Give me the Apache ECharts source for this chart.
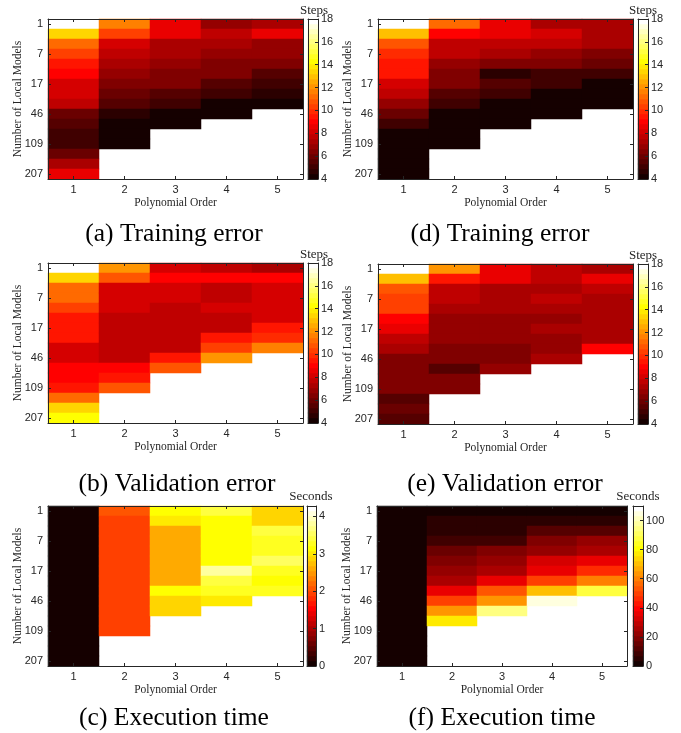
<!DOCTYPE html>
<html>
<head>
<meta charset="utf-8">
<script src="https://cdn.jsdelivr.net/npm/echarts@6/dist/echarts.min.js"></script>
<style>html,body{margin:0;background:#fff}#main{width:681px;height:733px}</style>
</head>
<body>
<div id="main"></div>
<script>
/* heatmaps: error / time vs polynomial order and number of local models */
var orders = ['1', '2', '3', '4', '5'];
var rowIds = [0, 1, 2, 3, 4, 5, 6, 7, 8, 9, 10, 11, 12, 13, 14, 15];
var rowTicks = [0, 3, 6, 9, 12, 15];
var rowTickLabels = ['1', '7', '17', '46', '109', '207'];

// one array per polynomial order, top row first
var trainA = [
    [18, 13.5, 11.1, 10.3, 9.3, 9.2, 8.3, 8.0, 7.5, 6.1, 5.4, 4.9, 4.9, 6.1, 7.4, 8.7],
    [11.8, 10.3, 8.0, 7.5, 7.3, 6.7, 6.4, 6.0, 5.4, 4.8, 4.3, 4.2, 4.2],
    [8.7, 8.5, 7.4, 7.2, 6.7, 6.5, 6.3, 5.4, 5.1, 4.3, 4.2],
    [7.0, 7.9, 7.4, 6.9, 6.6, 6.4, 5.4, 5.1, 4.2, 4.2],
    [7.2, 8.6, 6.9, 6.7, 6.2, 5.7, 5.1, 4.6, 4.2]
];
var trainD = [
    [18, 13.0, 10.6, 10.0, 9.6, 9.3, 8.2, 7.7, 7.0, 6.0, 5.2, 4.2, 4.2, 4.2, 4.2, 4.2],
    [11.2, 9.0, 7.9, 7.5, 6.8, 6.3, 6.3, 5.6, 5.1, 4.3, 4.2, 4.2, 4.2],
    [8.6, 8.5, 7.5, 7.1, 6.5, 4.7, 5.6, 5.0, 4.3, 4.2, 4.2],
    [7.2, 8.0, 7.5, 6.8, 6.4, 5.1, 5.3, 4.3, 4.2, 4.2],
    [7.3, 7.3, 7.3, 6.3, 5.8, 5.1, 4.3, 4.2, 4.2]
];
var validB = [
    [18, 13.4, 11.2, 11.1, 10.5, 9.5, 9.3, 9.5, 8.2, 8.2, 9.0, 9.0, 9.5, 11.2, 13.4, 14.1],
    [11.9, 10.8, 8.2, 8.2, 8.2, 7.8, 7.8, 7.9, 7.6, 7.6, 9.0, 9.5, 10.8],
    [8.2, 9.0, 8.2, 8.2, 7.9, 7.8, 7.8, 7.9, 7.7, 9.3, 10.8],
    [7.9, 9.0, 7.7, 7.7, 8.2, 7.7, 7.8, 9.3, 10.3, 11.9],
    [7.4, 9.0, 8.2, 8.2, 8.2, 8.2, 9.3, 10.0, 11.6]
];
var validE = [
    [18, 13.0, 10.8, 10.3, 10.3, 9.2, 8.4, 7.9, 7.3, 6.6, 6.6, 6.3, 6.3, 5.5, 6.1, 5.5],
    [12.0, 9.5, 7.9, 7.9, 7.3, 6.9, 6.9, 6.9, 6.3, 6.3, 5.5, 6.3, 6.3],
    [8.6, 8.6, 7.3, 7.3, 7.3, 6.9, 6.9, 6.9, 6.3, 6.3, 6.9],
    [7.9, 7.9, 7.3, 7.9, 7.3, 6.8, 7.3, 6.9, 6.9, 7.3],
    [7.3, 8.6, 7.9, 7.3, 7.3, 7.3, 7.3, 7.3, 9.2]
];
var timeC = [
    [0.06, 0.06, 0.06, 0.06, 0.06, 0.06, 0.06, 0.06, 0.06, 0.06, 0.06, 0.06, 0.06, 0.06, 0.06, 0.06],
    [2.05, 1.93, 1.93, 1.93, 1.93, 1.93, 1.93, 1.93, 1.93, 1.93, 1.93, 1.93, 1.93],
    [3.15, 2.95, 2.6, 2.6, 2.6, 2.6, 2.6, 2.6, 3.15, 2.85, 2.85],
    [3.35, 3.15, 3.15, 3.15, 3.15, 3.15, 3.8, 3.4, 3.3, 2.95],
    [2.9, 2.9, 3.45, 3.3, 3.3, 3.6, 3.3, 3.2, 3.3]
];
var timeF = [
    [1.5, 1.5, 1.5, 1.5, 1.5, 1.5, 1.5, 1.5, 1.5, 1.5, 1.5, 1.5, 1.5, 1.5, 1.5, 1.5],
    [1.5, 5, 5, 8.5, 15, 20, 22, 26, 36, 50, 65, 77],
    [1.5, 5, 5, 8.5, 19, 22, 26, 36, 52, 65, 96],
    [1.5, 5, 12, 19, 22, 33, 36, 50, 71, 104],
    [1.5, 5, 12, 22, 26, 36, 45, 60, 88]
];

var panels = [
    {data: trainA, min: 4, max: 18, interval: 2, unit: 'Steps', caption: '(a) Training error'},
    {data: trainD, min: 4, max: 18, interval: 2, unit: 'Steps', caption: '(d) Training error'},
    {data: validB, min: 4, max: 18, interval: 2, unit: 'Steps', caption: '(b) Validation error'},
    {data: validE, min: 4, max: 18, interval: 2, unit: 'Steps', caption: '(e) Validation error'},
    {data: timeC, min: 0, max: 4.28, interval: 1, unit: 'Seconds', caption: '(c) Execution time'},
    {data: timeF, min: 0, max: 110, interval: 20, unit: 'Seconds', caption: '(f) Execution time'}
];

// whole-pixel cells (16 rows x 10px, 5 cols x 51px) so no seams show between cells
var layout = [
    {x: 48, y: 19, w: 255, h: 160, cx: 308, cw: 10, ux: 314, uy: 11, tx: 174, ty: 234},
    {x: 378, y: 19, w: 255, h: 160, cx: 638, cw: 10, ux: 643, uy: 11, tx: 500, ty: 234},
    {x: 48, y: 263, w: 255, h: 160, cx: 308, cw: 10, ux: 314, uy: 255, tx: 177, ty: 484},
    {x: 378, y: 264, w: 255, h: 160, cx: 638, cw: 10, ux: 643, uy: 256, tx: 505, ty: 484},
    {x: 48, y: 506, w: 255, h: 160, cx: 307, cw: 9, ux: 311, uy: 497, tx: 174, ty: 718},
    {x: 377, y: 506, w: 250, h: 160, cx: 633, cw: 10, ux: 638, uy: 497, tx: 502, ty: 718}
];

var ink = '#262626';
var sans = '"Liberation Sans", Arial, sans-serif';
var serif = '"Liberation Serif", "Times New Roman", serif';
var NLEV = 32;

// MATLAB-like hot(m)
function hot(m) {
    var n = Math.floor(3 / 8 * m), out = [];
    for (var i = 0; i < m; i++) {
        var r = i < n ? (i + 1) / n : 1;
        var g = i < n ? 0 : (i < 2 * n ? (i - n + 1) / n : 1);
        var b = i < 2 * n ? 0 : (i - 2 * n + 1) / (m - 2 * n);
        out.push('rgb(' + Math.round(r * 255) + ',' + Math.round(g * 255) + ',' + Math.round(b * 255) + ')');
    }
    return out;
}
var hotColors = hot(NLEV);
var levels = [];
for (var li = 0; li < NLEV; li++) levels.push(li);

var line = {show: true, lineStyle: {color: ink, width: 1}};
var noSplit = {show: false};
var grids = [], xAxes = [], yAxes = [], series = [], visualMaps = [], graphics = [];

panels.forEach(function (p, k) {
    var L = layout[k];
    var step = (p.max - p.min) / NLEV;

    // main heatmap
    var gi = grids.length;
    grids.push({left: L.x, top: L.y, width: L.w, height: L.h});
    var xi = xAxes.length;
    xAxes.push({
        type: 'category', gridIndex: gi, data: orders, position: 'bottom', z: 5,
        splitLine: noSplit, splitArea: noSplit,
        axisLine: line, axisTick: {show: true, inside: true, length: 3, alignWithLabel: true, lineStyle: {color: ink}},
        axisLabel: {color: ink, fontFamily: sans, fontSize: 11, margin: 5},
        name: 'Polynomial Order', nameLocation: 'middle', nameGap: 18,
        nameTextStyle: {color: ink, fontFamily: serif, fontSize: 11.5}
    });
    xAxes.push({
        type: 'category', gridIndex: gi, data: orders, position: 'top', z: 5,
        splitLine: noSplit, splitArea: noSplit,
        axisLine: line, axisTick: {show: true, inside: true, length: 3, alignWithLabel: true, lineStyle: {color: ink}},
        axisLabel: {show: false}
    });
    var yi = yAxes.length;
    var pick = function (i) { return rowTicks.indexOf(i) >= 0; };
    yAxes.push({
        type: 'category', gridIndex: gi, data: rowIds, inverse: true, position: 'left', z: 5,
        splitLine: noSplit, splitArea: noSplit,
        axisLine: line,
        axisTick: {show: true, inside: true, length: 3, alignWithLabel: true, interval: pick, lineStyle: {color: ink}},
        axisLabel: {
            color: ink, fontFamily: sans, fontSize: 11, margin: 5, interval: pick,
            formatter: function (v) { var t = rowTicks.indexOf(+v); return t >= 0 ? rowTickLabels[t] : ''; }
        },
        name: 'Number of Local Models', nameLocation: 'middle', nameGap: 24, nameMoveOverlap: false,
        nameTextStyle: {color: ink, fontFamily: serif, fontSize: 11.5}
    });
    yAxes.push({
        type: 'category', gridIndex: gi, data: rowIds, inverse: true, position: 'right', z: 5,
        splitLine: noSplit, splitArea: noSplit,
        axisLine: line,
        axisTick: {show: true, inside: true, length: 3, alignWithLabel: true, interval: pick, lineStyle: {color: ink}},
        axisLabel: {show: false}
    });
    var cells = [];
    p.data.forEach(function (col, c) {
        col.forEach(function (v, r) { cells.push([c, r, v]); });
    });
    var si = series.length;
    series.push({type: 'heatmap', xAxisIndex: xi, yAxisIndex: yi, data: cells, emphasis: {disabled: true}});

    // colour bar
    var cg = grids.length;
    grids.push({left: L.cx, top: L.y, width: L.cw, height: L.h});
    var cxi = xAxes.length;
    xAxes.push({type: 'category', gridIndex: cg, data: [''], position: 'bottom', z: 5,
        splitLine: noSplit, splitArea: noSplit,
        axisLine: line, axisTick: {show: false}, axisLabel: {show: false}});
    xAxes.push({type: 'category', gridIndex: cg, data: [''], position: 'top', z: 5,
        splitLine: noSplit, splitArea: noSplit,
        axisLine: line, axisTick: {show: false}, axisLabel: {show: false}});
    var cyi = yAxes.length;
    yAxes.push({type: 'category', gridIndex: cg, data: levels, position: 'left', z: 5,
        splitLine: noSplit, splitArea: noSplit,
        axisLine: line, axisTick: {show: false}, axisLabel: {show: false}});
    yAxes.push({
        type: 'value', gridIndex: cg, min: p.min, max: p.max, interval: p.interval, position: 'right', z: 5,
        axisLine: line, splitLine: noSplit, splitArea: noSplit,
        axisTick: {show: true, inside: true, length: 3, lineStyle: {color: ink}},
        axisLabel: {color: ink, fontFamily: sans, fontSize: 11, margin: 3, showMaxLabel: p.max % p.interval === 0}
    });
    series.push({
        type: 'heatmap', xAxisIndex: cxi, yAxisIndex: cyi, emphasis: {disabled: true},
        data: levels.map(function (i) { return [0, i, p.min + (i + 0.5) * step]; })
    });

    var pieces = hotColors.map(function (c, i) {
        var pc = {color: c};
        if (i > 0) pc.gte = p.min + i * step;
        if (i < NLEV - 1) pc.lt = p.min + (i + 1) * step;
        return pc;
    });
    visualMaps.push({type: 'piecewise', show: false, seriesIndex: [si, si + 1], pieces: pieces});

    graphics.push({type: 'text', x: L.ux, y: L.uy,
        style: {text: p.unit, fill: ink, font: '13px ' + serif, textAlign: 'center', textVerticalAlign: 'middle'}});
    graphics.push({type: 'text', x: L.tx, y: L.ty,
        style: {text: p.caption, fill: '#000', font: '25.5px ' + serif, textAlign: 'center', textVerticalAlign: 'middle'}});
});

var myChart = echarts.init(document.getElementById('main'));
myChart.setOption({
    animation: false,
    backgroundColor: '#fff',
    grid: grids,
    xAxis: xAxes,
    yAxis: yAxes,
    visualMap: visualMaps,
    series: series,
    graphic: graphics
});
</script>
</body>
</html>
